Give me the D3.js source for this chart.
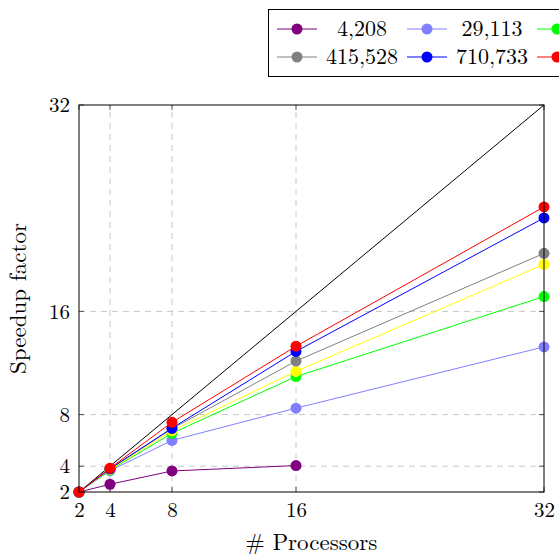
<!DOCTYPE html>
<html>
<head>
<meta charset="utf-8">
<script src="https://cdn.jsdelivr.net/npm/d3@7"></script>
<style>
  body { margin: 0; background: #fff; }
  svg { display: block; }
  svg text { fill: #000; }
</style>
</head>
<body>
<div id="chart"></div>
<script>
const WIDTH = 559;
const HEIGHT = 556;
const FONT = "'Latin Modern Roman', 'Liberation Serif', serif";

const processors = [2, 4, 8, 16, 32];
const ticks = [2, 4, 8, 16, 32];
const gridTicks = [4, 8, 16];

const seriesNames = ["4,208", "29,113", "", "415,528", "710,733", ""];
const seriesColors = ["#800080", "#8080ff", "#00ff00", "#ffff00", "#808080", "#0000ff", "#ff0000"];
// legend order as visible: purple, light blue, green / gray, blue, red
const legendIndex = [0, 1, 2, 4, 5, 6];
const seriesValues = [
  [2, 2.6, 3.63, 4.05],
  [2, 3.65, 6.0, 8.5, 13.25],
  [2, 3.7, 6.55, 10.95, 17.15],
  [2, 3.75, 6.75, 11.35, 19.65],
  [2, 3.8, 6.9, 12.15, 20.5],
  [2, 3.8, 6.95, 12.9, 23.25],
  [2, 3.85, 7.4, 13.3, 24.1]
];
const idealValues = [2, 32];

const margin = {top: 105, right: 15, bottom: 64, left: 79};

const svg = d3.select("#chart")
  .append("svg")
  .attr("width", WIDTH)
  .attr("height", HEIGHT);

const x = d3.scaleLinear().domain([2, 32]).range([margin.left, WIDTH - margin.right]);
const y = d3.scaleLinear().domain([2, 32]).range([HEIGHT - margin.bottom, margin.top]);

// grid
const grid = svg.append("g");
grid.selectAll(".gx").data(gridTicks).enter().append("line")
  .attr("x1", d => x(d)).attr("x2", d => x(d))
  .attr("y1", y(2)).attr("y2", y(32))
  .attr("stroke", "#c8c8c8").attr("stroke-dasharray", "6,5");
grid.selectAll(".gy").data(gridTicks).enter().append("line")
  .attr("y1", d => y(d)).attr("y2", d => y(d))
  .attr("x1", x(2)).attr("x2", x(32))
  .attr("stroke", "#c8c8c8").attr("stroke-dasharray", "6,5");

// axes
const xAxis = d3.axisBottom(x).tickValues(ticks).tickSize(0).tickPadding(10);
const yAxis = d3.axisLeft(y).tickValues(ticks).tickSize(0).tickPadding(9);

svg.append("g")
  .attr("transform", `translate(0,${y(2)})`)
  .call(xAxis)
  .call(g => g.select(".domain").remove())
  .selectAll("text").style("font-family", FONT).style("font-size", "21px");

svg.append("g")
  .attr("transform", `translate(${x(2)},0)`)
  .call(yAxis)
  .call(g => g.select(".domain").remove())
  .selectAll("text").style("font-family", FONT).style("font-size", "21px");

// inner tick marks on all four sides
const tk = svg.append("g").attr("stroke", "#555").attr("stroke-width", 1);
ticks.forEach(t => {
  tk.append("line").attr("x1", x(t)).attr("x2", x(t)).attr("y1", y(2)).attr("y2", y(2) - 5);
  tk.append("line").attr("x1", x(t)).attr("x2", x(t)).attr("y1", y(32)).attr("y2", y(32) + 5);
  tk.append("line").attr("y1", y(t)).attr("y2", y(t)).attr("x1", x(2)).attr("x2", x(2) + 5);
  tk.append("line").attr("y1", y(t)).attr("y2", y(t)).attr("x1", x(32)).attr("x2", x(32) - 5);
});

// ideal line
const line = d3.line().x(d => x(d[0])).y(d => y(d[1]));
svg.append("path")
  .datum([[2, idealValues[0]], [32, idealValues[1]]])
  .attr("d", line)
  .attr("fill", "none")
  .attr("stroke", "#000")
  .attr("stroke-width", 1);

// series
seriesValues.forEach((vals, i) => {
  const pts = vals.map((v, j) => [processors[j], v]);
  const g = svg.append("g");
  g.append("path")
    .datum(pts)
    .attr("d", line)
    .attr("fill", "none")
    .attr("stroke", seriesColors[i])
    .attr("stroke-width", 1);
  g.selectAll("circle").data(pts).enter().append("circle")
    .attr("cx", d => x(d[0]))
    .attr("cy", d => y(d[1]))
    .attr("r", 5.5)
    .attr("fill", seriesColors[i]);
});

// frame
svg.append("rect")
  .attr("x", x(2)).attr("y", y(32))
  .attr("width", x(32) - x(2)).attr("height", y(2) - y(32))
  .attr("fill", "none").attr("stroke", "#000").attr("stroke-width", 1);

// axis labels
svg.append("text")
  .attr("x", (x(2) + x(32)) / 2)
  .attr("y", 550)
  .attr("text-anchor", "middle")
  .style("font-family", FONT)
  .style("font-size", "23px")
  .text("# Processors");

svg.append("text")
  .attr("transform", `translate(26,${(y(2) + y(32)) / 2}) rotate(-90)`)
  .attr("text-anchor", "middle")
  .style("font-family", FONT)
  .style("font-size", "23px")
  .text("Speedup factor");

// legend
const legend = svg.append("g");
legend.append("rect")
  .attr("x", 268.5).attr("y", 9.5)
  .attr("width", 520).attr("height", 67)
  .attr("fill", "#fff").attr("stroke", "#000").attr("stroke-width", 1);

const colX = [277, 407, 537];
const rowY = [29, 57];
legendIndex.forEach((si, k) => {
  const cx = colX[k % 3];
  const cy = rowY[Math.floor(k / 3)];
  legend.append("line")
    .attr("x1", cx).attr("x2", cx + 40)
    .attr("y1", cy).attr("y2", cy)
    .attr("stroke", seriesColors[si]).attr("stroke-width", 1);
  legend.append("circle")
    .attr("cx", cx + 20).attr("cy", cy).attr("r", 5.5)
    .attr("fill", seriesColors[si]);
  if (seriesNames[k]) {
    legend.append("text")
      .attr("x", cx + 85).attr("y", cy + 7)
      .attr("text-anchor", "middle")
      .style("font-family", FONT)
      .style("font-size", "22px")
      .text(seriesNames[k]);
  }
});
</script>
</body>
</html>
